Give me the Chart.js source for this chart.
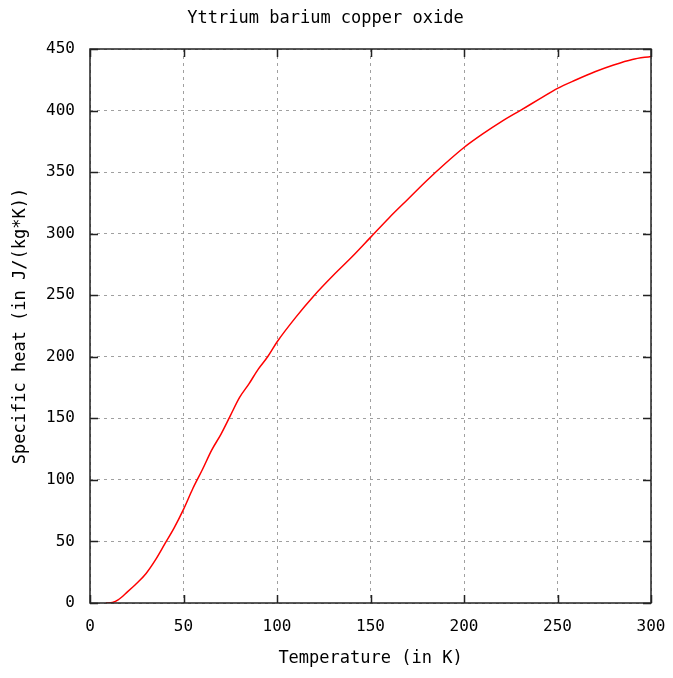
<!DOCTYPE html>
<html>
<head>
<meta charset="utf-8">
<script src="https://cdn.jsdelivr.net/npm/chart.js@4"></script>
<style>
  html, body { margin: 0; padding: 0; background: #fff; }
  canvas { display: block; }
</style>
</head>
<body>
<canvas id="c" width="673" height="678"></canvas>
<script>
const chartTitle = "Yttrium barium copper oxide";
const xTitle = "Temperature (in K)";
const yTitle = "Specific heat (in J/(kg*K))";

const temperatures = [8.5, 12, 15, 20, 25, 30, 35, 40, 45, 50, 55, 60, 65, 70, 75, 80, 85, 90, 95, 100, 110, 120, 130, 140, 150, 160, 170, 180, 190, 200, 210, 220, 230, 240, 250, 260, 270, 280, 290, 300];
const heatValues   = [0,   0.5, 2.5, 9, 16, 24, 35, 48, 61, 76, 93, 108, 124, 137, 152, 167, 178, 190, 200, 212, 232, 250, 266, 281, 297, 313, 328, 343, 357, 370, 381, 391, 400, 409, 418, 425, 431.5, 437, 441.5, 444];

const xRange = [0, 300];
const yRange = [0, 450];
const xStep = 50;
const yStep = 50;

const points = temperatures.map((t, i) => ({ x: t, y: heatValues[i] }));

const FONT = "'DejaVu Sans Mono', 'Liberation Mono', monospace";

const framePlugin = {
  id: 'frame',
  afterDraw(chart) {
    const { ctx, chartArea: a, scales } = chart;
    ctx.save();
    ctx.strokeStyle = '#222';
    ctx.lineWidth = 1.5;
    ctx.setLineDash([]);
    ctx.strokeRect(a.left, a.top, a.right - a.left, a.bottom - a.top);
    const tl = 8;
    ctx.beginPath();
    scales.x.ticks.forEach(t => {
      const px = Math.round(scales.x.getPixelForValue(t.value)) + 0.5;
      ctx.moveTo(px, a.bottom); ctx.lineTo(px, a.bottom - tl);
      ctx.moveTo(px, a.top); ctx.lineTo(px, a.top + tl);
    });
    scales.y.ticks.forEach(t => {
      const py = Math.round(scales.y.getPixelForValue(t.value)) + 0.5;
      ctx.moveTo(a.left, py); ctx.lineTo(a.left + tl, py);
      ctx.moveTo(a.right, py); ctx.lineTo(a.right - tl, py);
    });
    ctx.stroke();
    ctx.restore();
  }
};

new Chart(document.getElementById('c'), {
  type: 'line',
  data: {
    datasets: [{
      data: points,
      borderColor: '#ff0000',
      borderWidth: 1.5,
      pointRadius: 0,
      tension: 0.3,
      cubicInterpolationMode: 'monotone',
      fill: false
    }]
  },
  options: {
    responsive: false,
    animation: false,
    layout: { padding: { left: 0, right: 22, top: 0, bottom: 0 } },
    plugins: {
      legend: { display: false },
      tooltip: { enabled: false },
      title: {
        display: true,
        text: chartTitle,
        color: '#000',
        font: { family: FONT, size: 17, weight: 'normal' },
        padding: { top: 8, bottom: 20.6 }
      }
    },
    scales: {
      x: {
        type: 'linear',
        min: xRange[0], max: xRange[1],
        afterFit(s) { s.height = 75; s.paddingRight = 0; s.paddingLeft = 0; },
        ticks: {
          stepSize: xStep,
          color: '#000',
          padding: 14,
          font: { family: FONT, size: 16 },
          maxRotation: 0
        },
        grid: { color: '#a0a0a0', lineWidth: 1, drawTicks: false },
        border: { display: false, dash: [3, 4] },
        title: {
          display: true, text: xTitle, color: '#000',
          font: { family: FONT, size: 17 },
          padding: { top: 4, bottom: 9 }
        }
      },
      y: {
        type: 'linear',
        min: yRange[0], max: yRange[1],
        afterFit(s) { s.width = 90; s.paddingTop = 0; s.paddingBottom = 0; },
        ticks: {
          stepSize: yStep,
          color: '#000',
          padding: 15,
          font: { family: FONT, size: 16 }
        },
        grid: { color: '#a0a0a0', lineWidth: 1, drawTicks: false },
        border: { display: false, dash: [3, 4] },
        title: {
          display: true, text: yTitle, color: '#000',
          font: { family: FONT, size: 17 },
          padding: { top: 10, bottom: 4 }
        }
      }
    }
  },
  plugins: [framePlugin]
});
</script>
</body>
</html>
